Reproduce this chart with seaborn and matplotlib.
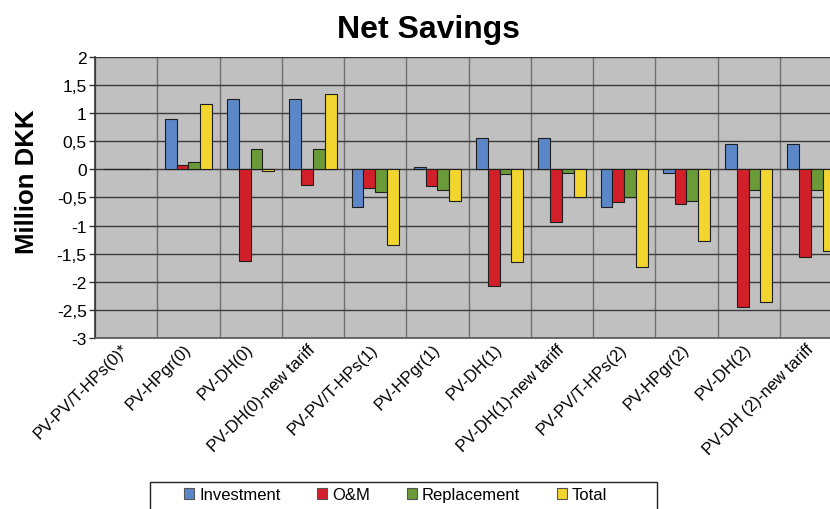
import matplotlib
matplotlib.use("Agg")
import matplotlib.pyplot as plt
from matplotlib.patches import Patch, Rectangle
from matplotlib.ticker import FuncFormatter, MultipleLocator
import numpy as np
import pandas as pd
import seaborn as sns

# Scenarios and savings components (million DKK)
scenarios = [
    "PV-PV/T-HPs(0)*", "PV-HPgr(0)", "PV-DH(0)", "PV-DH(0)-new tariff",
    "PV-PV/T-HPs(1)", "PV-HPgr(1)", "PV-DH(1)", "PV-DH(1)-new tariff",
    "PV-PV/T-HPs(2)", "PV-HPgr(2)", "PV-DH(2)", "PV-DH (2)-new tariff",
]
components = ["Investment", "O&M", "Replacement", "Total"]

investment = [0.0, 0.90, 1.26, 1.26, -0.67, 0.04, 0.55, 0.55, -0.67, -0.06, 0.46, 0.46]
om = [0.0, 0.08, -1.63, -0.28, -0.33, -0.30, -2.07, -0.93, -0.58, -0.61, -2.44, -1.55]
replacement = [0.0, 0.14, 0.37, 0.37, -0.40, -0.37, -0.08, -0.06, -0.50, -0.57, -0.37, -0.37]
total = [0.0, 1.17, -0.03, 1.34, -1.35, -0.57, -1.64, -0.50, -1.74, -1.27, -2.36, -1.46]

colors = ["#5b87c9", "#d2202a", "#6b9a38", "#f2d52e"]

df = pd.DataFrame({
    "scenario": scenarios * 4,
    "component": np.repeat(components, len(scenarios)),
    "value": investment + om + replacement + total,
})

sns.set_theme(style="white")
plt.rcParams["font.family"] = ["Liberation Sans", "DejaVu Sans"]
plt.rcParams["text.color"] = "black"
plt.rcParams["xtick.color"] = "black"
plt.rcParams["ytick.color"] = "black"

fig = plt.figure(figsize=(8.3, 5.1), dpi=100)
ax = fig.add_axes([0.1145, 0.3353, 0.9, 0.551])
ax.set_facecolor("#c0c0c0")

sns.barplot(
    data=df, x="scenario", y="value", hue="component",
    order=scenarios, hue_order=components, palette=colors, saturation=1,
    width=0.76, edgecolor="#1e1e1e", linewidth=0.8,
    legend=False, ax=ax, zorder=3,
)

ax.set_ylim(-3, 2)
ax.set_xlim(-0.5, len(scenarios) - 0.5)
ax.yaxis.set_major_locator(MultipleLocator(0.5))
ax.yaxis.set_major_formatter(
    FuncFormatter(lambda v, _: ("%g" % v).replace(".", ","))
)

# category separators and value gridlines
ax.set_xticks(np.arange(-0.5, len(scenarios), 1.0), minor=True)
ax.grid(which="major", axis="y", color="#3a3a3a", linewidth=1.0, zorder=1)
ax.grid(which="minor", axis="x", color="#707070", linewidth=1.0, zorder=1)
ax.set_axisbelow(True)

ax.set_xticks(range(len(scenarios)))
ax.set_xticklabels(scenarios, rotation=45, ha="right", va="center",
                   rotation_mode="anchor", fontsize=12)
ax.tick_params(axis="x", which="both", length=0, pad=6)
ax.tick_params(axis="y", length=4, width=1, color="#333333",
               labelsize=12.5, pad=2, direction="out", left=True)

ax.set_xlabel("")
ax.set_ylabel("")
for side in ["top", "right"]:
    ax.spines[side].set_visible(False)
ax.spines["left"].set_color("#333333")
ax.spines["left"].set_linewidth(1.2)
ax.spines["bottom"].set_color("#555555")
ax.spines["bottom"].set_linewidth(1.2)

fig.text(0.516, 0.925, "Net Savings", ha="center", va="baseline",
         fontsize=23, fontweight="bold")
fig.text(0.033, 0.643, "Million DKK", ha="center", va="center",
         rotation=90, fontsize=18.5, fontweight="bold")

# legend box running off the bottom edge
fig.patches.append(Rectangle((150 / 830, -0.05), 507 / 830, 0.05 + 27 / 510,
                             transform=fig.transFigure, facecolor="white",
                             edgecolor="#222222", linewidth=1.0, zorder=1))
handles = [Patch(facecolor=c, edgecolor="#555555", linewidth=0.8) for c in colors]
leg = fig.legend(
    handles, components, ncol=4, loc="center left",
    bbox_to_anchor=(176 / 830, 14 / 510), frameon=False,
    fontsize=12, handlelength=0.6, handleheight=0.6,
    handletextpad=0.3, columnspacing=2.2, borderpad=0.0,
)
leg.set_zorder(2)

fig.savefig("out.png", dpi=100)
